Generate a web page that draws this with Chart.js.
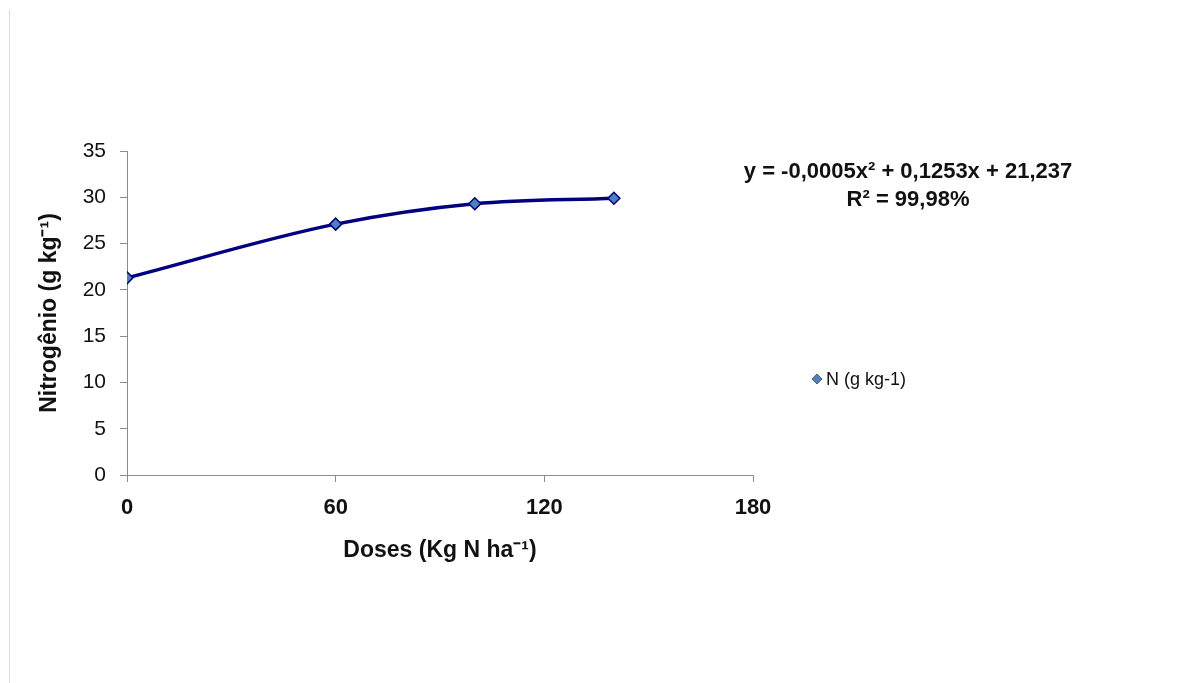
<!DOCTYPE html>
<html lang="pt">
<head>
    <meta charset="UTF-8">
    <title>Nitrogênio x Doses</title>
    <script src="https://cdn.jsdelivr.net/npm/chart.js"></script>
    <style>
        html, body { margin: 0; padding: 0; background: #fff; }
        #wrap { position: relative; width: 1196px; height: 683px; }
    </style>
</head>
<body>
    <div id="wrap">
        <canvas id="nChart" width="1196" height="683"></canvas>
    </div>

    <script>
        // dados
        const doses = [0, 60, 100, 140];
        const nitrogenio = [21.3, 27.1, 29.3, 29.9];
        const xTicks = [0, 60, 120, 180];
        const yTicks = [0, 5, 10, 15, 20, 25, 30, 35];
        const serieLabel = 'N (g kg-1)';
        const equacao = ['y = -0,0005x² + 0,1253x + 21,237', 'R² = 99,98%'];

        const NAVY = '#000080';
        const MARKER = '#4F81BD';
        const AXIS = '#8c8c8c';
        const FONT = '"Liberation Sans", Arial, sans-serif';

        // borda fina à esquerda, equação e legenda
        const extras = {
            id: 'extras',
            afterDraw(chart) {
                const ctx = chart.ctx;
                ctx.save();
                ctx.strokeStyle = '#dcdcdc';
                ctx.lineWidth = 1;
                ctx.beginPath();
                ctx.moveTo(9.5, 10);
                ctx.lineTo(9.5, 683);
                ctx.stroke();

                ctx.fillStyle = '#111';
                ctx.textAlign = 'center';
                ctx.textBaseline = 'middle';
                ctx.font = 'bold 22px ' + FONT;
                ctx.fillText(equacao[0], 908, 172);
                ctx.fillText(equacao[1], 908, 200);

                // legenda
                const lx = 817, ly = 379;
                ctx.fillStyle = MARKER;
                ctx.strokeStyle = '#3a5f95';
                ctx.lineWidth = 1;
                ctx.beginPath();
                ctx.moveTo(lx, ly - 5);
                ctx.lineTo(lx + 5, ly);
                ctx.lineTo(lx, ly + 5);
                ctx.lineTo(lx - 5, ly);
                ctx.closePath();
                ctx.fill();
                ctx.stroke();
                ctx.fillStyle = '#111';
                ctx.textAlign = 'left';
                ctx.font = '18px ' + FONT;
                ctx.fillText(serieLabel, 826, 380);
                ctx.restore();
            }
        };

        new Chart(document.getElementById('nChart'), {
            type: 'line',
            data: {
                datasets: [{
                    label: serieLabel,
                    data: doses.map((d, i) => ({ x: d, y: nitrogenio[i] })),
                    borderColor: NAVY,
                    borderWidth: 3.5,
                    cubicInterpolationMode: 'monotone',
                    pointStyle: 'rectRot',
                    pointRadius: 6,
                    pointBackgroundColor: MARKER,
                    pointBorderColor: NAVY,
                    pointBorderWidth: 1.5,
                    fill: false
                }]
            },
            options: {
                responsive: false,
                animation: false,
                layout: { padding: { left: 36, top: 151, right: 443, bottom: 113 } },
                plugins: {
                    legend: { display: false },
                    tooltip: { enabled: false }
                },
                scales: {
                    x: {
                        type: 'linear',
                        min: xTicks[0],
                        max: xTicks[xTicks.length - 1],
                        afterBuildTicks(scale) {
                            scale.ticks = xTicks.map(v => ({ value: v }));
                        },
                        afterFit(scale) { scale.height = 95; },
                        border: { display: true, color: AXIS, width: 1 },
                        grid: { drawOnChartArea: false, drawTicks: true, tickLength: 7, color: AXIS },
                        ticks: {
                            padding: 13,
                            color: '#111',
                            font: { family: FONT, size: 22, weight: 'bold' }
                        },
                        title: {
                            display: true,
                            text: 'Doses (Kg N ha⁻¹)',
                            color: '#111',
                            padding: { top: 0, bottom: 6 },
                            font: { family: FONT, size: 23, weight: 'bold' }
                        }
                    },
                    y: {
                        min: yTicks[0],
                        max: yTicks[yTicks.length - 1],
                        afterBuildTicks(scale) {
                            scale.ticks = yTicks.map(v => ({ value: v }));
                        },
                        afterFit(scale) { scale.width = 91; },
                        border: { display: true, color: AXIS, width: 1 },
                        grid: { drawOnChartArea: false, drawTicks: true, tickLength: 7, color: AXIS },
                        ticks: {
                            padding: 14,
                            color: '#111',
                            font: { family: FONT, size: 21 }
                        },
                        title: {
                            display: true,
                            text: 'Nitrogênio (g kg⁻¹)',
                            color: '#111',
                            padding: { top: 0, bottom: 0 },
                            font: { family: FONT, size: 23, weight: 'bold' }
                        }
                    }
                }
            },
            plugins: [extras]
        });
    </script>
</body>
</html>
